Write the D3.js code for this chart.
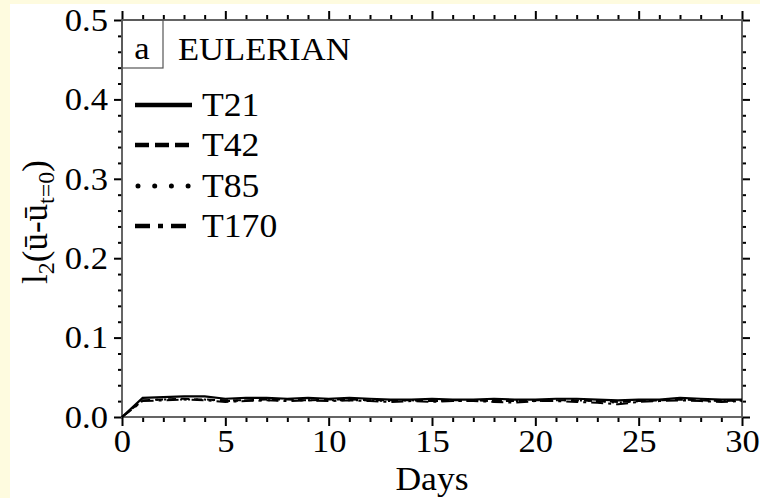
<!DOCTYPE html>
<html><head><meta charset="utf-8">
<script src="https://cdn.jsdelivr.net/npm/d3@7"></script>
<style>
html,body{margin:0;padding:0;background:#fff;}
svg{display:block;}
text{font-family:"Liberation Serif","Times New Roman",serif;fill:#000;}
</style></head>
<body>
<svg id="c" width="760" height="498"></svg>
<script>
const days = d3.range(0, 31);
const seriesNames = ["T21", "T42", "T85", "T170"];
const T21 = [0, 0.024, 0.025, 0.026, 0.026, 0.023, 0.024, 0.024, 0.023, 0.024, 0.023, 0.024, 0.023, 0.022, 0.022, 0.023, 0.022, 0.022, 0.023, 0.022, 0.022, 0.023, 0.023, 0.022, 0.021, 0.022, 0.022, 0.024, 0.023, 0.022, 0.022];
const T42 = [0, 0.021, 0.022, 0.023, 0.022, 0.021, 0.021, 0.022, 0.022, 0.021, 0.022, 0.022, 0.021, 0.021, 0.021, 0.020, 0.021, 0.021, 0.020, 0.020, 0.021, 0.021, 0.021, 0.020, 0.019, 0.020, 0.021, 0.022, 0.021, 0.020, 0.021];
const T85 = [0, 0.021, 0.022, 0.022, 0.022, 0.020, 0.021, 0.021, 0.021, 0.021, 0.021, 0.021, 0.021, 0.020, 0.021, 0.020, 0.020, 0.021, 0.020, 0.020, 0.020, 0.021, 0.021, 0.020, 0.018, 0.020, 0.021, 0.022, 0.021, 0.020, 0.021];
const T170 = [0, 0.020, 0.021, 0.022, 0.021, 0.019, 0.020, 0.021, 0.020, 0.021, 0.020, 0.021, 0.020, 0.019, 0.020, 0.019, 0.020, 0.020, 0.019, 0.018, 0.020, 0.020, 0.019, 0.018, 0.016, 0.019, 0.020, 0.021, 0.020, 0.019, 0.020];
const seriesValues = [T21, T42, T85, T170];
const seriesDash = [null, "8,5", "2,6", "12,5,3,5"];
const legendDash = [null, "14,6", "0,16.7", "15,8,5,8"];
const xTicks = [0, 5, 10, 15, 20, 25, 30];
const xTickLabels = ["0", "5", "10", "15", "20", "25", "30"];
const yTicks = [0, 0.1, 0.2, 0.3, 0.4, 0.5];
const yTickLabels = ["0.0", "0.1", "0.2", "0.3", "0.4", "0.5"];

const svg = d3.select("#c");
svg.append("rect").attr("x",0).attr("y",0).attr("width",760).attr("height",498).attr("fill","#fefbdf");
svg.append("rect").attr("x",10).attr("y",4).attr("width",750).attr("height",494).attr("fill","#ffffff");

const L = 122, R = 742, T = 20, B = 417;
const x = d3.scaleLinear().domain([0, 30]).range([L, R]);
const y = d3.scaleLinear().domain([0, 0.5]).range([B, T]);

const fs = 32, SX = 1.08;
const minorX = d3.range(0, 31, 1).filter(v => v % 5 !== 0);
const minorY = d3.range(0, 0.5001, 0.02).map(v => +v.toFixed(2)).filter(v => Math.round(v*100) % 10 !== 0);

function styleAxis(g){
  g.select(".domain").remove();
  g.selectAll(".tick line").attr("stroke","#000").attr("stroke-width",2);
}
// bottom
const gb = svg.append("g").attr("transform",`translate(0,${B})`);
gb.append("g").call(d3.axisBottom(x).tickValues(minorX).tickSize(5).tickFormat("")).call(styleAxis);
gb.append("g").call(d3.axisBottom(x).tickValues(xTicks).tickSize(9).tickPadding(3)
  .tickFormat((d,i)=>xTickLabels[i])).call(styleAxis)
  .selectAll("text").attr("font-size",fs).attr("font-family","Liberation Serif").attr("fill","#000")
  .attr("transform",`scale(${SX},1)`);
// top
const gt = svg.append("g").attr("transform",`translate(0,${T})`);
gt.append("g").call(d3.axisTop(x).tickValues(minorX).tickSize(5).tickFormat("")).call(styleAxis);
gt.append("g").call(d3.axisTop(x).tickValues(xTicks).tickSize(9).tickFormat("")).call(styleAxis);
// left
const gl = svg.append("g").attr("transform",`translate(${L},0)`);
gl.append("g").call(d3.axisLeft(y).tickValues(minorY).tickSize(4).tickFormat("")).call(styleAxis);
gl.append("g").call(d3.axisLeft(y).tickValues(yTicks).tickSize(8).tickPadding(5)
  .tickFormat((d,i)=>yTickLabels[i])).call(styleAxis)
  .selectAll("text").attr("font-size",fs).attr("font-family","Liberation Serif").attr("fill","#000")
  .attr("transform",`scale(${SX},1)`);
// right
const gr = svg.append("g").attr("transform",`translate(${R},0)`);
gr.append("g").call(d3.axisRight(y).tickValues(minorY).tickSize(4).tickFormat("")).call(styleAxis);
gr.append("g").call(d3.axisRight(y).tickValues(yTicks).tickSize(8).tickFormat("")).call(styleAxis);

// frame
svg.append("rect").attr("x",L).attr("y",T).attr("width",R-L).attr("height",B-T)
  .attr("fill","none").attr("stroke","#555").attr("stroke-width",1.8);

// data lines
const line = d3.line().x((d,i)=>x(days[i])).y(d=>y(d));
seriesValues.forEach((vals,k)=>{
  svg.append("path").datum(vals).attr("d",line).attr("fill","none")
    .attr("stroke","#000").attr("stroke-width",k===0?2.2:2)
    .attr("stroke-dasharray",seriesDash[k]);
});

function stretchedText(px, py, size, str, anchor){
  return svg.append("g").attr("transform",`translate(${px},${py}) scale(${SX},1)`)
    .append("text").attr("font-size",size).attr("text-anchor",anchor||"start").text(str);
}

// panel label box
svg.append("rect").attr("x",L).attr("y",T).attr("width",41).attr("height",48)
  .attr("fill","none").attr("stroke","#555").attr("stroke-width",1.2);
stretchedText(L+20, T+39, 32, "a", "middle");
stretchedText(178, T+40, 32, "EULERIAN");

// legend
const legY = [105, 145, 186, 226];
seriesNames.forEach((n,k)=>{
  svg.append("line").attr("x1",k===2?138:135).attr("x2",192).attr("y1",legY[k]).attr("y2",legY[k])
    .attr("stroke","#000").attr("stroke-width",k===2?5:4.5).attr("stroke-dasharray",legendDash[k])
    .attr("stroke-linecap", k===2 ? "round" : "butt");
  stretchedText(202, legY[k]+11, 33, n);
});

// axis titles
stretchedText((L+R)/2, 490, 33, "Days", "middle");
const yl = svg.append("text").attr("transform","translate(47,222) rotate(-90)")
  .attr("text-anchor","middle").attr("font-size",35);
yl.append("tspan").text("l");
yl.append("tspan").attr("font-size",24).attr("dy",7).text("2");
yl.append("tspan").attr("dy",-7).text("(ū-ū");
yl.append("tspan").attr("font-size",24).attr("dy",7).text("t=0");
yl.append("tspan").attr("dy",-7).text(")");
</script>
</body></html>
